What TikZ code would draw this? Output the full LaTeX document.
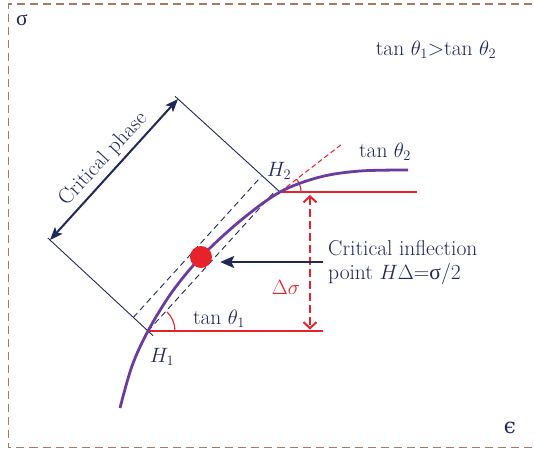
\documentclass[tikz,border=0pt]{standalone}
\usepackage{fontspec}
\newfontfamily\grk{Liberation Serif}
\newfontfamily\grkb{DejaVu Serif}
\usetikzlibrary{arrows.meta,calc}
\definecolor{navy}{HTML}{1F2859}
\definecolor{cred}{HTML}{E8222A}
\definecolor{cpurple}{HTML}{6B3C9F}
\definecolor{cbrown}{HTML}{A8785F}
\tikzset{
  lbl/.style={text=navy, font=\fontsize{21.5}{24}\selectfont, inner sep=0pt},
  frameline/.style={cbrown, line width=1.5pt, dash pattern=on 8pt off 5pt},
  thinnavy/.style={navy, line width=0.9pt},
  navydash/.style={navy, line width=0.9pt, dash pattern=on 6pt off 4pt},
  redline/.style={cred, line width=1.1pt},
  reddash/.style={cred, line width=1pt, dash pattern=on 5pt off 3pt},
  redarrow/.style={cred, line width=2.2pt, dash pattern=on 8pt off 4pt,
    {Straight Barb[length=6pt,width=13pt,line width=2pt]}-{Straight Barb[length=6pt,width=13pt,line width=2pt]}},
  navyarrow/.style={navy, line width=2.5pt, -{Stealth[length=14pt,width=12pt,inset=3pt]}},
  dblarrow/.style={navy, line width=2pt, {Stealth[length=13pt,width=10pt,inset=3pt]}-{Stealth[length=13pt,width=10pt,inset=3pt]}},
  curve/.style={cpurple, line width=2.8pt},
}
\begin{document}
\begin{tikzpicture}[x=1pt,y=-1pt]
\useasboundingbox (0,0) rectangle (534,451);
% frame
\draw[frameline] (545,4) -- (8.5,4) -- (8.5,447.5) -- (545,447.5);
% key points
\coordinate (H1) at (148,331);
\coordinate (H2) at (280,192);
\coordinate (L) at (50,240);
\coordinate (T) at (178,99);
\coordinate (P1) at ($(H1)!20pt!(L)$);
\coordinate (R2) at (417,192);
\coordinate (R1) at (323,331);
\coordinate (Tg) at (342,144);
\coordinate (U) at (310,192);
\coordinate (D) at (310,331);
\coordinate (arrS) at (323,262);
% box
\draw[thinnavy] ($(T)!-4pt!(H2)$) -- (H2);
\draw[thinnavy] ($(L)!-3pt!(H1)$) -- ($(H1)!-7pt!(L)$);
\draw[navydash] (H1) -- ($(H1)+(T)-(L)$);
\draw[navydash] (P1) -- ($(P1)+(T)-(L)$);
\draw[dblarrow] (L) -- (T);
% red lines
\draw[redline] (H2) -- (R2);
\draw[redline] (H1) -- (R1);
\draw[reddash] (H2) -- (Tg);
\draw[redline] ($(H2)+(21,0)$) arc[start angle=0, end angle=38, radius=21pt];
\draw[redline] ($(H1)+(27,0)$) arc[start angle=0, end angle=45, radius=27pt];
\draw[redarrow, shorten <=3pt, shorten >=1.5pt] (U) -- (D);
% curve
\draw[curve] plot[smooth, tension=0.55] coordinates {(120,408) (132,366) (148,331) (172,292) (201,257) (240,221) (280,192) (320,177) (360,171) (408,170)};
% dot
\node[circle, fill=cred, minimum size=22pt, inner sep=0pt] (dot) at (201,257) {};
\draw[navyarrow, shorten >=8pt] (arrS) -- (arrS -| dot.east);
% texts
\node[lbl] (sig) at (22,20) {\grk σ};
\node[lbl] (eps) at (510,428) {\grkb ϵ};
\node[lbl] (cmp) at (436,50) {tan $\theta_1$>tan $\theta_2$};
\node[lbl] (t2) at (385,152) {tan $\theta_2$};
\node[lbl] (h2) at (279,171) {$H_2$};
\node[lbl] (h1) at (162,357) {$H_1$};
\node[lbl] (t1) at (219,319) {tan $\theta_1$};
\node[lbl, text=cred] (ds) at (286,287) {$\Delta\sigma$};
\node[lbl, anchor=west, align=left] (inf) at (328,263) {Critical inflection\\point $H\Delta$={\grk σ}/2};
\node[lbl, rotate=47, anchor=south, inner sep=5pt] (cp) at ($(L)!0.5!(T)$) {Critical phase};
\end{tikzpicture}
\end{document}
